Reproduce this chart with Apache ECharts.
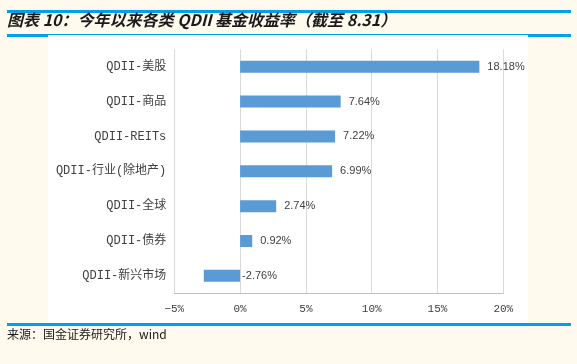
<!DOCTYPE html>
<html><head><meta charset="utf-8">
<script src="https://cdn.jsdelivr.net/npm/echarts@6/dist/echarts.min.js"></script>
<style>html,body{margin:0;padding:0;background:#FFF9EE}#c{width:577px;height:364px}</style>
</head><body><div id="c"></div>
<script>
var categories = ['QDII-美股','QDII-商品','QDII-REITs','QDII-行业(除地产)','QDII-全球','QDII-债券','QDII-新兴市场'];
var values = [18.18, 7.64, 7.22, 6.99, 2.74, 0.92, -2.76];
var xTicks = [-5, 0, 5, 10, 15, 20];
var titleText = '图表 10：今年以来各类 QDII 基金收益率（截至 8.31）';
var sourceText = '来源：国金证券研究所，wind';

var chart = echarts.init(document.getElementById('c'));
var blue = '#00A0E9';
chart.setOption({
  backgroundColor: '#FFF9EE',
  animation: false,
  graphic: [
    {type:'rect', shape:{x:7,y:10,width:564,height:3}, style:{fill:blue}, z:-20},
    {type:'rect', shape:{x:7,y:34,width:564,height:3}, style:{fill:blue}, z:-20},
    {type:'rect', shape:{x:7,y:323,width:564,height:3}, style:{fill:blue}, z:-20},
    {type:'rect', shape:{x:48,y:35,width:480,height:288}, style:{fill:'#FFFFFF'}, z:-10},
    {type:'text', x:7, y:20, style:{text:titleText, font:'italic bold 16px "Noto Sans CJK SC"', fill:'#1a1a1a', textVerticalAlign:'middle'}, z:2},
    {type:'text', x:7, y:334, style:{text:sourceText, font:'12px "Noto Sans CJK SC"', fill:'#1a1a1a', textVerticalAlign:'middle'}, z:2}
  ],
  grid: {left:174.3, right:73.7, top:49.3, bottom:70.7, containLabel:false},
  xAxis: {
    type:'value', min:xTicks[0], max:xTicks[xTicks.length-1], interval:5,
    axisLine:{show:true, lineStyle:{color:'#BFBFBF'}},
    axisTick:{show:false},
    splitLine:{show:true, lineStyle:{color:'#D9D9D9'}},
    axisLabel:{formatter:function(v){return (v<0?'−':'')+Math.abs(v)+'%';}, color:'#404040', fontSize:11, fontFamily:'"Liberation Mono","Noto Sans CJK SC"', margin:10}
  },
  yAxis: {
    type:'category', data:categories, inverse:true,
    axisLine:{show:false}, axisTick:{show:false},
    axisLabel:{color:'#404040', fontSize:12, fontFamily:'"Liberation Mono","Noto Sans CJK SC"', margin:8}
  },
  series: [{
    type:'bar', barWidth:12,
    itemStyle:{color:'#5B9BD5'},
    data: values.map(function(v){return {value:v, label:{distance: v<0?2:8}};}),
    label:{show:true, position:'right', formatter:function(p){return p.value.toFixed(2)+'%';}, color:'#404040', fontSize:11, fontFamily:'"Liberation Sans",Arial'},
    z:3
  }]
});
</script></body></html>
